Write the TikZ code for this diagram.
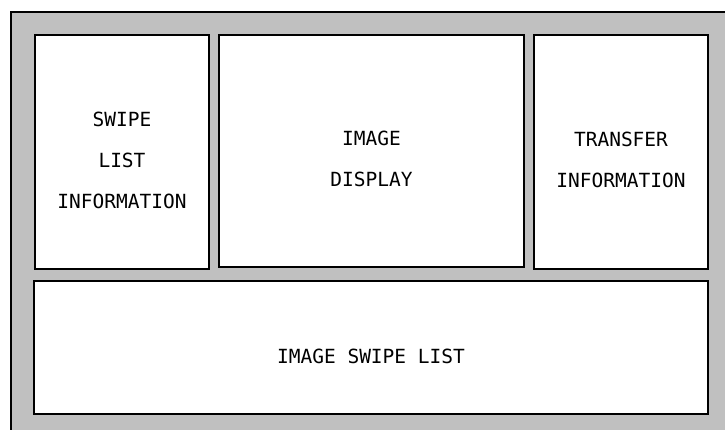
\documentclass[tikz,border=0pt]{standalone}
\usepackage{fontspec}
\newfontfamily\monofont{DejaVu Sans Mono}
\definecolor{panelgray}{HTML}{C0C0C0}
\begin{document}
\begin{tikzpicture}[x=1pt,y=-1pt,
  panel/.style={draw=black,line width=1.6pt,fill=white},
  lbl/.style={anchor=base,inner sep=0pt,font=\monofont\fontsize{19.5}{23}\selectfont}]
\useasboundingbox (0,0) rectangle (725,430);
\clip (0,0) rectangle (725,430);
\fill[white] (0,0) rectangle (725,430);
\draw[draw=black,line width=2pt,fill=panelgray] (11,12) rectangle (745,450);
\draw[panel] (35,35) rectangle (209,269);
\draw[panel] (219,35) rectangle (524,267);
\draw[panel] (534,35) rectangle (708,269);
\draw[panel] (34,281) rectangle (708,414);
\node[lbl] (s1) at (122,127) {SWIPE};
\node[lbl] (s2) at (122,168) {LIST};
\node[lbl] (s3) at (122,209) {INFORMATION};
\node[lbl] (d1) at (371.5,146) {IMAGE};
\node[lbl] (d2) at (371.5,187) {DISPLAY};
\node[lbl] (t1) at (621,147) {TRANSFER};
\node[lbl] (t2) at (621,188) {INFORMATION};
\node[lbl] (l1) at (371,363) {IMAGE SWIPE LIST};
\end{tikzpicture}
\end{document}
